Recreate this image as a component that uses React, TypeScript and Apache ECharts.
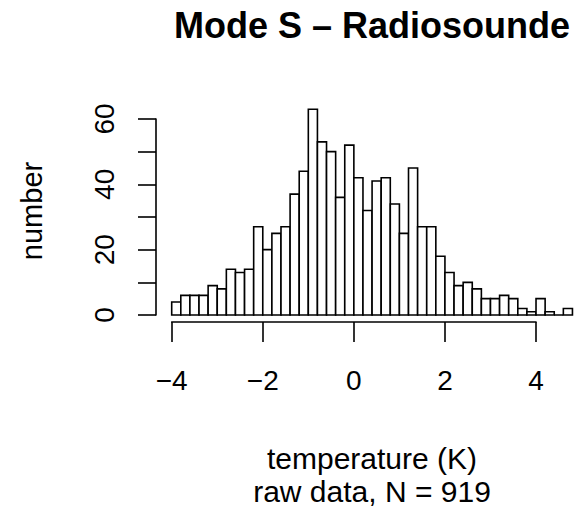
import React, { useEffect, useRef } from "react";
import * as echarts from "echarts";

// Histogram bin edges (K) and counts per bin
const binEdges = [
  -4.0, -3.8, -3.6, -3.4, -3.2, -3.0, -2.8, -2.6, -2.4, -2.2, -2.0, -1.8, -1.6, -1.4, -1.2,
  -1.0, -0.8, -0.6, -0.4, -0.2, 0.0, 0.2, 0.4, 0.6, 0.8, 1.0, 1.2, 1.4, 1.6, 1.8, 2.0,
  2.2, 2.4, 2.6, 2.8, 3.0, 3.2, 3.4, 3.6, 3.8, 4.0, 4.2, 4.4, 4.6, 4.8,
];
const counts = [
  4, 6, 6, 6, 9, 8, 14, 13, 14, 27, 20, 25, 27, 37, 44, 63, 53, 50, 36, 52, 42, 32,
  41, 42, 34, 25, 45, 27, 27, 18, 13, 9, 10, 8, 5, 5, 6, 5, 2, 1, 5, 1, 0, 2,
];
const xTicks = [-4, -2, 0, 2, 4];
const yTicks = [0, 10, 20, 30, 40, 50, 60];

const titleText = "Mode S \u2013 Radiosounde";
const xTitle = "temperature (K)";
const xSubtitle = "raw data, N = 919";
const yTitle = "number";

const FONT = "'Liberation Sans', Arial, Helvetica, sans-serif";

export default function App() {
  const ref = useRef<HTMLDivElement>(null);
  useEffect(() => {
    document.body.style.margin = "0";
    if (!ref.current) return;
    const chart = echarts.init(ref.current, undefined, { renderer: "svg" });
    const bins = counts.map((c, i) => [binEdges[i], binEdges[i + 1], c]);
    const px = 45.54; // px per K
    const py = 3.2667; // px per count
    const x0 = 171.7;
    const base = 315;
    const barsMaxY = 70;
    const textStyle = (text: string, size: number, bold = false) => ({
      text,
      font: `${bold ? "bold " : ""}${size}px ${FONT}`,
      fill: "#000",
      textAlign: "center",
      textVerticalAlign: "middle",
    });
    chart.setOption({
      animation: false,
      backgroundColor: "#ffffff",
      textStyle: { fontFamily: FONT },
      graphic: [
        { type: "text", x: 372, y: 25, style: textStyle(titleText, 36, true) },
        { type: "text", x: 372, y: 458, style: textStyle(xTitle, 30) },
        { type: "text", x: 372, y: 491, style: textStyle(xSubtitle, 30) },
        { type: "text", x: 32, y: 211, rotation: Math.PI / 2, style: textStyle(yTitle, 29) },
      ],
      grid: [
        {
          left: x0,
          width: (binEdges[binEdges.length - 1] - binEdges[0]) * px,
          top: base - barsMaxY * py,
          height: barsMaxY * py,
        },
        {
          left: x0,
          width: (xTicks[xTicks.length - 1] - xTicks[0]) * px,
          top: 321,
          height: 1,
        },
        {
          left: 156,
          width: 1,
          top: base - 60 * py,
          height: 60 * py,
        },
      ],
      xAxis: [
        {
          gridIndex: 0,
          type: "value",
          min: binEdges[0],
          max: binEdges[binEdges.length - 1],
          show: false,
        },
        {
          gridIndex: 1,
          type: "value",
          min: xTicks[0],
          max: xTicks[xTicks.length - 1],
          interval: 2,
          position: "bottom",
          axisLine: { show: true, lineStyle: { color: "#000", width: 1.6 } },
          axisTick: { show: true, inside: false, length: 20, lineStyle: { color: "#000", width: 1.6 } },
          splitLine: { show: false },
          axisLabel: {
            show: true,
            margin: 44,
            color: "#000",
            fontSize: 28,
            fontFamily: FONT,
            formatter: (v: number) => (v < 0 ? "\u2212" + Math.abs(v) : String(v)),
          },
        },
        {
          gridIndex: 2,
          type: "value",
          show: false,
        },
      ],
      yAxis: [
        {
          gridIndex: 0,
          type: "value",
          min: 0,
          max: barsMaxY,
          show: false,
        },
        {
          gridIndex: 1,
          type: "value",
          show: false,
        },
        {
          gridIndex: 2,
          type: "value",
          min: yTicks[0],
          max: yTicks[yTicks.length - 1],
          interval: 10,
          position: "left",
          axisLine: { show: true, lineStyle: { color: "#000", width: 1.6 } },
          axisTick: { show: true, inside: false, length: 18, lineStyle: { color: "#000", width: 1.6 } },
          splitLine: { show: false },
          axisLabel: {
            show: true,
            rotate: 90,
            margin: 38,
            color: "#000",
            fontSize: 28,
            fontFamily: FONT,
            formatter: (v: number) => (v % 20 === 0 ? String(v) : ""),
          },
        },
      ],
      series: [
        {
          type: "custom",
          xAxisIndex: 0,
          yAxisIndex: 0,
          data: bins,
          encode: { x: [0, 1], y: 2 },
          renderItem: (params: any, api: any) => {
            const a = api.coord([api.value(0), api.value(2)]);
            const b = api.coord([api.value(1), 0]);
            return {
              type: "rect",
              shape: { x: a[0], y: a[1], width: b[0] - a[0], height: b[1] - a[1] },
              style: { fill: "#ffffff", stroke: "#000000", lineWidth: 1.6 },
            };
          },
        },
      ],
    });
    return () => chart.dispose();
  }, []);
  return <div ref={ref} style={{ width: 578, height: 510 }} />;
}
